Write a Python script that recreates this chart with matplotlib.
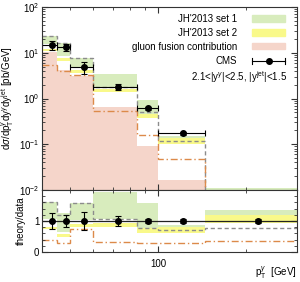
import matplotlib
matplotlib.use('Agg')
import matplotlib.pyplot as plt
import matplotlib.ticker as ticker
from matplotlib.patches import Rectangle
from matplotlib.lines import Line2D
import numpy as np

plt.rcParams['font.family'] = ['Liberation Sans', 'DejaVu Sans']
plt.rcParams['mathtext.fontset'] = 'custom'
plt.rcParams['mathtext.rm'] = 'Liberation Sans'
plt.rcParams['mathtext.it'] = 'Liberation Sans:italic'

# pT bins [GeV] and mean pT of the data points
edges = [40, 45, 50, 60, 85, 100, 145, 300]
pt_mean = [43.3, 48.3, 55.6, 73, 92.5, 122, 220]

# cross sections [pb/GeV]
cms = [14.8, 13.5, 4.8, 1.8, 0.61, 0.173, 0.0082]
cms_err = [3.5, 2.4, 1.4, 0.29, 0.05, 0.012, 0.0006]
set1_lo = [15.5, 8.6, 4.7, 1.8, 0.47, 0.105, 0.0076]
set1_hi = [23.6, 16.5, 7.6, 3.4, 0.94, 0.150, 0.011]
set2_lo = [11.0, 6.6, 3.7, 1.4, 0.37, 0.103, 0.0076]
set2_hi = [12.2, 7.8, 4.3, 1.65, 0.47, 0.136, 0.0098]
gluon = [10.2, 4.3, 3.1, 0.65, 0.091, 0.0166, 0.003]
set1_line = [23.6, 16.0, 7.6, 1.8, 0.50, 0.117, 0.0062]
set2_gluon = [5.4, 3.9, 3.3, 0.52, 0.16, 0.047, 0.003]

# theory/data
r_err = [0.26, 0.18, 0.28, 0.16, 0.08, 0.07, 0.07]
r_set1_lo = [1.06, 0.65, 1.03, 1.05, 0.76, 0.62, 0.93]
r_set1_hi = [1.62, 1.27, 1.57, 1.95, 1.57, 0.88, 1.35]
r_set2_lo = [0.74, 0.49, 0.80, 0.82, 0.60, 0.60, 0.93]
r_set2_hi = [0.82, 0.58, 0.90, 0.93, 0.77, 0.80, 1.19]
r_set1_line = [1.62, 1.19, 1.57, 1.05, 0.76, 0.70, 0.76]
r_set2_gluon = [0.39, 0.28, 0.73, 0.32, 0.28, 0.30, 0.36]

green = '#d8ecbd'
yellow = '#f9f98a'
pink = '#f5d5ca'
orange = '#dc8a4a'
grey = '#8c8c8c'
fs = 7

W, H = 300., 282.
fig = plt.figure(figsize=(3.0, 2.82), dpi=100)
ax = fig.add_axes([42/W, 1-190/H, 255/W, 183/H])
axr = fig.add_axes([42/W, 1-252/H, 255/W, 62/H])

x = np.array(pt_mean)
xerr = [x - np.array(edges[:-1]), np.array(edges[1:]) - x]

# top panel
ax.stairs(gluon, edges, baseline=1e-4, fill=True, color=pink, lw=0)
ax.stairs(set1_hi, edges, baseline=set1_lo, fill=True, color=green, lw=0)
ax.stairs(set2_hi, edges, baseline=set2_lo, fill=True, color=yellow, lw=0)
ax.stairs(set1_line, edges, baseline=None, color=grey, ls=(0, (3, 2)), lw=1.0)
ax.stairs(set2_gluon, edges, baseline=None, color=orange, ls=(0, (5, 2, 1, 2)), lw=1.0)
ax.errorbar(x, cms, yerr=cms_err, xerr=xerr, fmt='o', color='black', ms=4,
            capsize=2, elinewidth=0.8, capthick=0.8)
ax.set_yscale('log')
ax.set_ylim(1e-2, 1e2)
ax.set_ylabel(r'd$\sigma$/dp$_{\rm T}^{\gamma}$dy$^{\gamma}$dy$^{\rm jet}$ [pb/GeV]',
              fontsize=fs, labelpad=2)

# ratio panel
axr.stairs(r_set1_hi, edges, baseline=r_set1_lo, fill=True, color=green, lw=0)
axr.stairs(r_set2_hi, edges, baseline=r_set2_lo, fill=True, color=yellow, lw=0)
axr.stairs(r_set1_line, edges, baseline=None, color=grey, ls=(0, (3, 2)), lw=1.0)
axr.stairs(r_set2_gluon, edges, baseline=None, color=orange, ls=(0, (5, 2, 1, 2)), lw=1.0)
axr.axhline(1, color='#222222', lw=0.9)
axr.errorbar(x, np.ones(len(x)), yerr=r_err, fmt='o', color='black', ms=4,
             capsize=2, elinewidth=0.8, capthick=0.8)
axr.set_ylim(0, 2)
axr.set_ylabel('theory/data', fontsize=fs, labelpad=6)
axr.yaxis.set_major_locator(ticker.FixedLocator([0, 1]))
axr.yaxis.set_minor_locator(ticker.MultipleLocator(0.2))

for a in (ax, axr):
    a.set_xscale('log')
    a.set_xlim(40, 300)
    a.xaxis.set_major_locator(ticker.FixedLocator([100]))
    a.xaxis.set_minor_locator(ticker.FixedLocator([40, 50, 60, 70, 80, 90, 200, 300]))
    a.xaxis.set_minor_formatter(ticker.NullFormatter())
    a.tick_params(which='both', direction='in', top=True, right=True,
                  labelsize=fs, color='#333333', pad=2)
    a.tick_params(which='major', length=4)
    a.tick_params(which='minor', length=2)
    for s in a.spines.values():
        s.set_color('#333333')
        s.set_linewidth(0.8)
ax.xaxis.set_major_formatter(ticker.NullFormatter())
axr.xaxis.set_major_formatter(ticker.FixedFormatter(['100']))
axr.tick_params(axis='x', pad=5)

fig.text(255/W, 1-273/H, r'p$_{\rm T}^{\gamma}$  [GeV]', fontsize=fs, ha='left', va='center')

# legend drawn by hand
rows = [18.5, 32.5, 46.5, 61]
labels = ["JH'2013 set 1", "JH'2013 set 2", 'gluon fusion contribution', 'CMS']
colors = [green, yellow, pink, None]
for yy, lab, c in zip(rows, labels, colors):
    fig.text(237/W, 1-yy/H, lab, fontsize=fs, ha='right', va='center')
    if c is not None:
        fig.add_artist(Rectangle((252/W, 1-(yy+3)/H), 33/W, 6/H, color=c,
                                 transform=fig.transFigure))
fig.add_artist(Line2D([252/W, 285/W], [1-61/H, 1-61/H], color='black', lw=0.8,
                      transform=fig.transFigure))
for xx in (252, 285):
    fig.add_artist(Line2D([xx/W, xx/W], [1-58.5/H, 1-63.5/H], color='black', lw=0.8,
                          transform=fig.transFigure))
fig.add_artist(Line2D([268.5/W], [1-61/H], marker='o', ms=4, color='black',
                      transform=fig.transFigure))
fig.text(287/W, 1-77/H, r'2.1<|y$^{\gamma}$|<2.5, |y$^{\rm jet}$|<1.5', fontsize=fs,
         ha='right', va='center')

fig.savefig('out.png', dpi=100)
